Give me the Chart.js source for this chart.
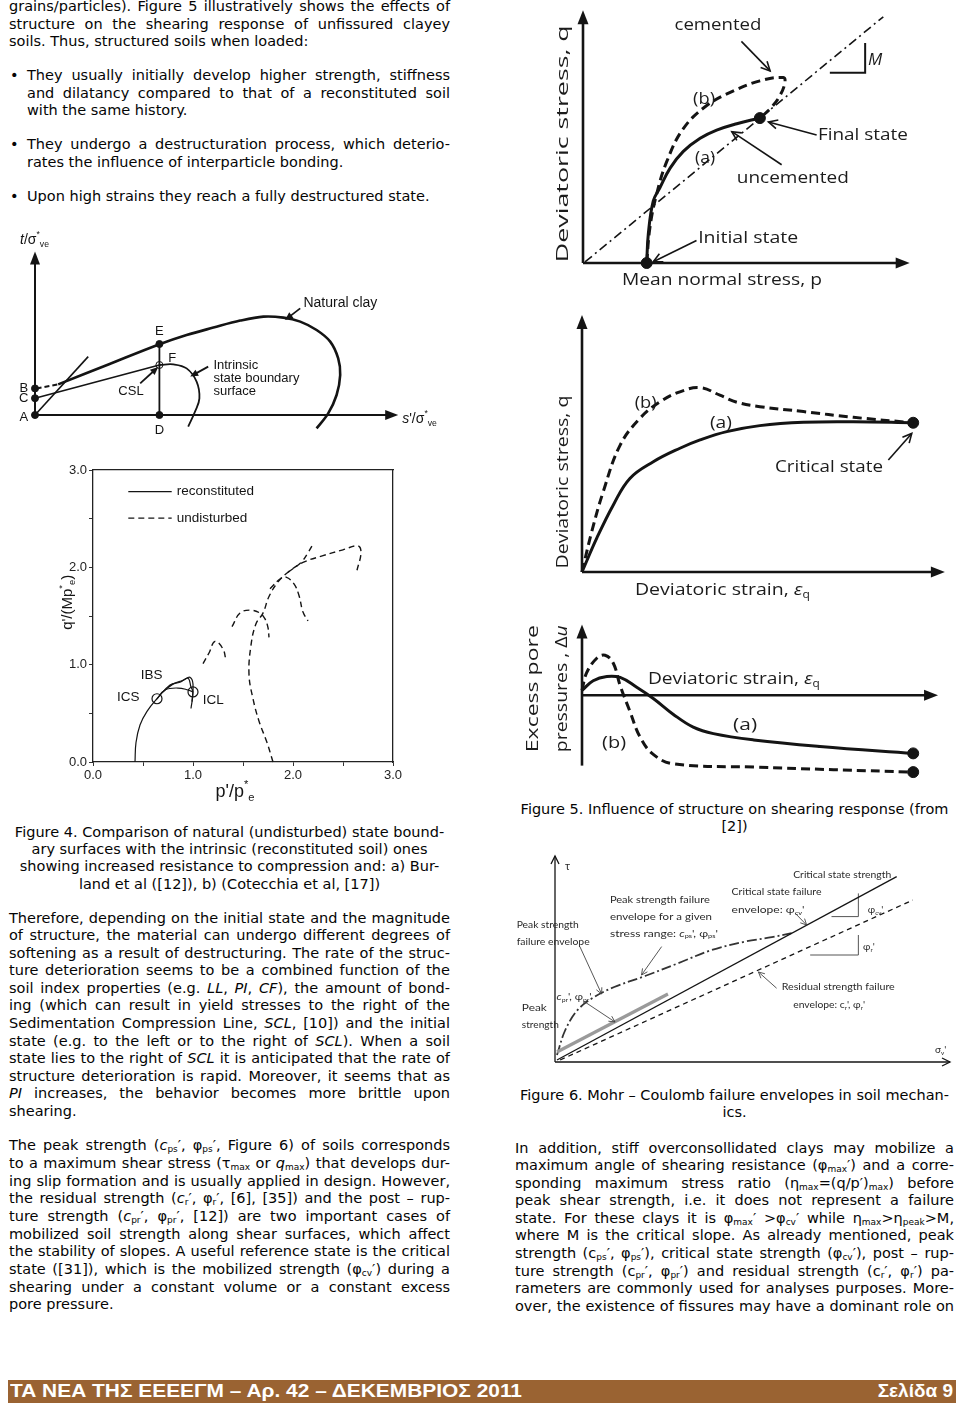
<!DOCTYPE html>
<html>
<head>
<meta charset="utf-8">
<title>Structured soils - figures 4 to 6</title>
<script src="https://cdn.jsdelivr.net/npm/chart.js"></script>
<style>
  html, body { margin: 0; padding: 0; background: #fff; }
  body { position: relative; width: 960px; height: 1408px; overflow: hidden;
         font-family: "DejaVu Sans", Verdana, sans-serif; font-size: 14.5px; color: #050505; }
  .blk { position: absolute; }
  .blk > div { white-space: nowrap; }
  .c { text-align: center; }
  .blk sub { font-size: 0.62em; vertical-align: -0.22em; line-height: 0; }
  .dot { position: absolute; left: 10px; line-height: 17.5px; }
  canvas { position: absolute; }
  #band { position: absolute; left: 8px; top: 1380px; width: 948px; height: 23px; background: #9a6332; }
  #band span { position: absolute; top: 0; line-height: 23px; color: #fff; white-space: nowrap;
               font: bold 19px "Liberation Sans Narrow", "Liberation Sans", sans-serif; }
</style>
</head>
<body>

<div class="blk" style="left:9px;top:-2px;width:441px;line-height:17.5px">
  <div class="j">grains/particles). Figure 5 illustratively shows the effects of</div>
  <div class="j">structure on the shearing response of unfissured clayey</div>
  <div>soils. Thus, structured soils when loaded:</div>
</div>

<span class="dot" style="top:67px">&bull;</span>
<div class="blk" style="left:27px;top:67px;width:423px;line-height:17.5px">
  <div class="j">They usually initially develop higher strength, stiffness</div>
  <div class="j">and dilatancy compared to that of a reconstituted soil</div>
  <div>with the same history.</div>
</div>
<span class="dot" style="top:136px">&bull;</span>
<div class="blk" style="left:27px;top:136px;width:423px;line-height:17.5px">
  <div class="j">They undergo a destructuration process, which deterio-</div>
  <div>rates the influence of interparticle bonding.</div>
</div>
<span class="dot" style="top:188px">&bull;</span>
<div class="blk" style="left:27px;top:188px;width:423px;line-height:17.5px">
  <div>Upon high strains they reach a fully destructured state.</div>
</div>

<div class="blk c" style="left:9px;top:823.5px;width:441px;line-height:17.4px">
  <div>Figure 4. Comparison of natural (undisturbed) state bound-</div>
  <div>ary surfaces with the intrinsic (reconstituted soil) ones</div>
  <div>showing increased resistance to compression and: a) Bur-</div>
  <div>land et al ([12]), b) (Cotecchia et al, [17])</div>
</div>

<div class="blk" style="left:9px;top:909.5px;width:441px;line-height:17.6px">
  <div class="j">Therefore, depending on the initial state and the magnitude</div>
  <div class="j">of structure, the material can undergo different degrees of</div>
  <div class="j">softening as a result of destructuring. The rate of the struc-</div>
  <div class="j">ture deterioration seems to be a combined function of the</div>
  <div class="j">soil index properties (e.g. <i>LL</i>, <i>PI</i>, <i>CF</i>), the amount of bond-</div>
  <div class="j">ing (which can result in yield stresses to the right of the</div>
  <div class="j">Sedimentation Compression Line, <i>SCL</i>, [10]) and the initial</div>
  <div class="j">state (e.g. to the left or to the right of <i>SCL</i>). When a soil</div>
  <div class="j">state lies to the right of <i>SCL</i> it is anticipated that the rate of</div>
  <div class="j">structure deterioration is rapid. Moreover, it seems that as</div>
  <div class="j"><i>PI</i> increases, the behavior becomes more brittle upon</div>
  <div>shearing.</div>
</div>

<div class="blk" style="left:9px;top:1137.2px;width:441px;line-height:17.67px">
  <div class="j">The peak strength (<i>c</i><sub>ps</sub>&prime;, &phi;<sub>ps</sub>&prime;, Figure 6) of soils corresponds</div>
  <div class="j">to a maximum shear stress (&tau;<sub>max</sub> or <i>q</i><sub>max</sub>) that develops dur-</div>
  <div class="j">ing slip formation and is usually applied in design. However,</div>
  <div class="j">the residual strength (<i>c</i><sub>r</sub>&prime;, &phi;<sub>r</sub>&prime;, [6], [35]) and the post &ndash; rup-</div>
  <div class="j">ture strength (<i>c</i><sub>pr</sub>&prime;, &phi;<sub>pr</sub>&prime;, [12]) are two important cases of</div>
  <div class="j">mobilized soil strength along shear surfaces, which affect</div>
  <div class="j">the stability of slopes. A useful reference state is the critical</div>
  <div class="j">state ([31]), which is the mobilized strength (&phi;<sub>cv</sub>&prime;) during a</div>
  <div class="j">shearing under a constant volume or a constant excess</div>
  <div>pore pressure.</div>
</div>

<div class="blk c" style="left:515px;top:801.2px;width:439px;line-height:17px">
  <div>Figure 5. Influence of structure on shearing response (from</div>
  <div>[2])</div>
</div>

<div class="blk c" style="left:515px;top:1087.2px;width:439px;line-height:17.3px">
  <div>Figure 6. Mohr &ndash; Coulomb failure envelopes in soil mechan-</div>
  <div>ics.</div>
</div>

<div class="blk" style="left:515px;top:1139.5px;width:439px;line-height:17.6px">
  <div class="j">In addition, stiff overconsollidated clays may mobilize a</div>
  <div class="j">maximum angle of shearing resistance (&phi;<sub>max</sub>&prime;) and a corre-</div>
  <div class="j">sponding maximum stress ratio (&eta;<sub>max</sub>=(q/p&prime;)<sub>max</sub>) before</div>
  <div class="j">peak shear strength, i.e. it does not represent a failure</div>
  <div class="j">state. For these clays it is &phi;<sub>max</sub>&prime; &gt;&phi;<sub>cv</sub>&prime; while &eta;<sub>max</sub>&gt;&eta;<sub>peak</sub>&gt;M,</div>
  <div class="j">where M is the critical slope. As already mentioned, peak</div>
  <div class="j">strength (c<sub>ps</sub>&prime;, &phi;<sub>ps</sub>&prime;), critical state strength (&phi;<sub>cv</sub>&prime;), post &ndash; rup-</div>
  <div class="j">ture strength (c<sub>pr</sub>&prime;, &phi;<sub>pr</sub>&prime;) and residual strength (c<sub>r</sub>&prime;, &phi;<sub>r</sub>&prime;) pa-</div>
  <div class="j">rameters are commonly used for analyses purposes. More-</div>
  <div class="j">over, the existence of fissures may have a dominant role on</div>
</div>

<div id="band">
  <span id="bandLeft" style="left:2px">ΤΑ ΝΕΑ ΤΗΣ ΕΕΕΕΓΜ – Αρ. 42 – ΔΕΚΕΜΒΡΙΟΣ 2011</span>
  <span id="bandRight" style="right:3px">Σελίδα 9</span>
</div>

<script>
// ---- Figure 5 top: stress paths, mean normal stress p vs deviatoric stress q (sketch units)
const pathUncemented = [[1.93,0],[1.98,1.14],[2.13,2.42],[2.33,2.93],[2.64,3.70],[3.04,4.35],[3.55,4.86],[4.05,5.18],[4.66,5.43],[5.36,5.65]];
const pathCemented = [[1.93,0],[2.03,1.40],[2.23,2.68],[2.54,3.96],[3.04,5.24],[3.75,6.14],[4.56,6.71],[5.36,7.10],[6.07,7.23],[6.12,7.04],[5.97,6.53],[5.72,6.08],[5.46,5.76]];
const lineCsl = [[0.06,0.04],[9.1,9.6]];
const slopeM = [[7.48,7.42],[8.55,7.42],[8.55,8.58]];
const pathStates = [[1.93,0],[5.36,5.65]];

// ---- Figure 5 middle: deviatoric strain vs deviatoric stress
const strainQa = [[0,0],[0.41,1.30],[0.87,2.58],[1.33,3.60],[1.98,4.24],[2.72,4.76],[3.28,5.08],[4.02,5.40],[4.94,5.63],[6.15,5.76],[7.54,5.78],[9.20,5.74]];
const strainQb = [[0,0],[0.27,1.55],[0.59,3.09],[1.06,4.88],[1.61,5.91],[2.17,6.55],[2.72,6.93],[3.28,7.09],[3.83,6.80],[4.30,6.53],[4.94,6.36],[6.15,6.17],[7.54,5.95],[9.20,5.74]];
const criticalPoint = [[9.20,5.74]];

// ---- Figure 5 bottom: deviatoric strain vs excess pore pressure
const strainUa = [[0,0.19],[0.31,0.58],[0.69,0.75],[1.06,0.71],[1.52,0.32],[1.98,-0.13],[2.54,-0.77],[3.09,-1.28],[3.65,-1.54],[4.77,-1.79],[6.61,-2.05],[9.20,-2.33]];
const strainUb = [[0,0.19],[0.13,0.90],[0.41,1.48],[0.64,1.60],[0.87,1.28],[1.06,0.38],[1.33,-0.64],[1.61,-1.67],[1.98,-2.37],[2.54,-2.75],[4.77,-2.88],[9.20,-3.08]];
const endPointsU = [[9.20,-2.33],[9.20,-3.08]];

// ---- Figure 4a: state boundary surfaces, s'/sigma*ve vs t/sigma*ve (sketch units)
const naturalStart = [[0.04,1.33],[0.58,1.53]];
const naturalClay = [[0.58,1.53],[1.85,2.54],[3.13,3.55],[3.79,4.0],[4.46,4.37],[5.13,4.72],[5.71,4.92],[6.21,4.87],[6.63,4.67],[7.04,4.25],[7.38,3.67],[7.58,2.83],[7.63,2.0],[7.54,1.0],[7.33,0.08],[7.04,-0.67]];
const lineCF = [[0,0.84],[3.11,2.5]];
const lineSteep = [[0,0],[1.33,2.92]];
const lineDE = [[3.11,0],[3.11,3.55]];
const intrinsicSbs = [[3.11,2.5],[3.46,2.53],[3.79,2.33],[4.04,1.67],[4.11,0.83],[4.0,0.17],[3.83,-0.58]];
const pointsABCDE = [[0,0],[0,1.33],[0,0.84],[3.11,0],[3.11,3.55]];
const pointF = [[3.11,2.5]];

// ---- Figure 4b: p'/p*e vs q'/(M p*e)
const reconOuter = [[0.42,0],[0.43,0.2],[0.47,0.38],[0.54,0.52],[0.64,0.65],[0.77,0.79],[0.87,0.82],[0.95,0.86],[0.98,0.77],[1.0,0.72],[0.98,0.55]];
const reconInner = [[0.64,0.65],[0.72,0.74],[0.85,0.76],[0.95,0.74],[1.0,0.72]];
const reconUpper = [[0.7,0.72],[0.8,0.8],[0.9,0.84],[0.97,0.87],[1.0,0.8],[0.99,0.62]];
const undist1 = [[1.80,0],[1.74,0.2],[1.66,0.42],[1.6,0.65],[1.56,0.9],[1.58,1.2],[1.63,1.42],[1.70,1.53],[1.76,1.7],[1.85,1.85],[1.95,1.95],[2.1,2.05],[2.3,2.12],[2.5,2.18],[2.65,2.22],[2.68,2.15],[2.64,1.97]];
const undist2 = [[1.10,1.01],[1.16,1.12],[1.22,1.24],[1.30,1.16],[1.33,1.04]];
const undist3 = [[1.39,1.39],[1.47,1.53],[1.57,1.56],[1.67,1.53],[1.72,1.47],[1.75,1.38],[1.76,1.28]];
const undist4 = [[1.77,1.78],[1.87,1.88],[1.93,1.90],[2.01,1.83],[2.06,1.71],[2.10,1.54],[2.15,1.45]];
const undist5 = [[1.95,1.95],[2.08,2.05],[2.15,2.15],[2.19,2.22]];
const intrinsicPoints = [[0.64,0.65],[1.0,0.72]];
const ticks4b = [0, 1, 2, 3];

// ---- Figure 6: Mohr-Coulomb envelopes, sigma'v vs tau (sketch units)
const envCritical = [[0.05,0.1],[8.65,9.27]];
const envResidual = [[0.13,0.1],[9.06,8.1]];
const envPeak = [[0.05,0.35],[0.25,1.55],[0.55,2.55],[0.95,3.2],[1.5,3.75],[2.28,4.3],[3.12,4.94],[3.97,5.6],[4.81,6.02],[5.49,6.24],[5.99,6.44]];
const envPostRupture = [[0.05,0.5],[2.86,3.4]];
const slopeCv = [[7.0,7.27],[7.68,7.27],[7.68,8.43]];
const slopeR = [[6.46,5.35],[7.68,5.35],[7.68,6.35]];

// ------------------------------------------------------------------
Chart.defaults.font.family = '"Liberation Sans", Arial, sans-serif';
const INK = '#141414';

const pts = a => a.map(([x, y]) => ({x, y}));
function line(arr, o) {
  return Object.assign({data: pts(arr), showLine: true, borderColor: INK, borderWidth: 2,
    pointRadius: 0, tension: 0.4, fill: false, clip: false}, o || {});
}
function dots(arr, o) {
  return Object.assign({data: pts(arr), showLine: false, pointRadius: 4.5,
    pointBackgroundColor: INK, pointBorderColor: INK, pointBorderWidth: 1, clip: false}, o || {});
}

function parseRich(s) {
  const out = []; let buf = '';
  for (let i = 0; i < s.length; i++) {
    const c = s[i];
    if ((c === '^' || c === '_' || c === '%') && s[i + 1] === '{') {
      if (buf) { out.push({t: buf, k: ''}); buf = ''; }
      const j = s.indexOf('}', i);
      out.push({t: s.slice(i + 2, j), k: c});
      i = j;
    } else buf += c;
  }
  if (buf) out.push({t: buf, k: ''});
  return out;
}

function drawRich(ctx, s, px, py, o) {
  const segs = parseRich(s);
  const size = o.size;
  const fontFor = k => ((k === '%' || o.italic) ? 'italic ' : '') + (o.weight || 'normal') + ' ' +
    (k === '^' || k === '_' ? size * 0.62 : size) + 'px ' + o.family;
  let total = 0;
  segs.forEach(g => { ctx.font = fontFor(g.k); g.w = ctx.measureText(g.t).width; total += g.w; });
  ctx.save();
  ctx.translate(px, py);
  if (o.rot) ctx.rotate(o.rot);
  if (o.w) ctx.scale(o.w / total, 1);
  let x = o.align === 'left' ? 0 : o.align === 'right' ? -total : -total / 2;
  ctx.fillStyle = o.color; ctx.textBaseline = 'middle'; ctx.textAlign = 'left';
  segs.forEach(g => {
    ctx.font = fontFor(g.k);
    const dy = g.k === '^' ? -size * 0.38 : g.k === '_' ? size * 0.3 : 0;
    ctx.fillText(g.t, x, dy);
    x += g.w;
  });
  ctx.restore();
}

function arrow(ctx, x1, y1, x2, y2, st) {
  const a = Math.atan2(y2 - y1, x2 - x1);
  const L = st.len, H = st.half;
  ctx.strokeStyle = st.color; ctx.fillStyle = st.color; ctx.lineWidth = st.lw; ctx.setLineDash([]);
  const ex = st.open ? x2 : x2 - Math.cos(a) * L * 0.7;
  const ey = st.open ? y2 : y2 - Math.sin(a) * L * 0.7;
  ctx.beginPath(); ctx.moveTo(x1, y1); ctx.lineTo(ex, ey); ctx.stroke();
  const bx = x2 - Math.cos(a) * L, by = y2 - Math.sin(a) * L;
  const nx = -Math.sin(a) * H, ny = Math.cos(a) * H;
  ctx.beginPath(); ctx.moveTo(bx + nx, by + ny); ctx.lineTo(x2, y2); ctx.lineTo(bx - nx, by - ny);
  if (st.open) ctx.stroke(); else { ctx.closePath(); ctx.fill(); }
}

// annotations (arrows, text, legend samples) placed through the chart scales
const notesPlugin = {
  id: 'notes',
  afterDatasetsDraw(chart, args, opts) {
    const ctx = chart.ctx, sx = chart.scales.x, sy = chart.scales.y;
    const X = v => sx.getPixelForValue(v), Y = v => sy.getPixelForValue(v);
    ctx.save();
    (opts.segs || []).forEach(s => {
      ctx.strokeStyle = INK; ctx.lineWidth = s[5]; ctx.setLineDash(s[4]);
      ctx.beginPath(); ctx.moveTo(X(s[0]), Y(s[1])); ctx.lineTo(X(s[2]), Y(s[3])); ctx.stroke();
    });
    ctx.setLineDash([]);
    (opts.arrows || []).forEach(a => arrow(ctx, X(a[0]), Y(a[1]), X(a[2]), Y(a[3]), opts.styles[a[4]]));
    (opts.labels || []).forEach(l => drawRich(ctx, l.t, X(l.x), Y(l.y), {
      size: l.size || opts.font.size, family: opts.font.family, color: opts.font.color,
      align: l.a || 'center', rot: l.rot || 0, w: l.w, italic: l.it
    }));
    ctx.restore();
  }
};

function mount(left, top, w, h) {
  const c = document.createElement('canvas');
  c.width = w; c.height = h;
  c.style.left = left + 'px'; c.style.top = top + 'px';
  c.style.width = w + 'px'; c.style.height = h + 'px';
  document.body.appendChild(c);
  return c;
}

function sketch(box, pad, xr, yr, datasets, notes) {
  const canvas = mount(box[0], box[1], box[2], box[3]);
  return new Chart(canvas, {
    type: 'scatter',
    data: {datasets},
    options: {
      responsive: false, animation: false, events: [],
      layout: {padding: {left: pad[0], top: pad[1], right: pad[2], bottom: pad[3]}},
      plugins: {legend: {display: false}, tooltip: {enabled: false}, notes},
      scales: {
        x: {type: 'linear', min: xr[0], max: xr[1], display: false},
        y: {type: 'linear', min: yr[0], max: yr[1], display: false}
      }
    },
    plugins: [notesPlugin]
  });
}

const CAL = '"Open Sans", "Noto Sans", sans-serif';
const fig5Styles = {
  axis: {lw: 2.6, len: 14, half: 5.5, open: false, color: INK},
  note: {lw: 1.6, len: 9, half: 4.5, open: true, color: INK}
};
const DASH = [9, 5];

// Figure 5 top
sketch([550, 0, 410, 300], [33, 3, 30.5, 37], [0, 10.5], [0, 10], [
  line(lineCsl, {borderWidth: 1.6, borderDash: [9, 4, 2, 4], tension: 0}),
  line(slopeM, {borderWidth: 2, tension: 0}),
  line(pathCemented, {borderWidth: 3, borderDash: DASH}),
  line(pathUncemented, {borderWidth: 3}),
  dots(pathStates, {pointRadius: 5.5})
], {
  font: {family: CAL, size: 17, color: '#1c1c1c'},
  styles: fig5Styles,
  arrows: [[0, 0, 0, 9.85, 'axis'], [0, 0, 9.9, 0, 'axis'],
           [4.80, 8.64, 5.67, 7.49, 'note'], [7.08, 4.99, 5.62, 5.50, 'note'],
           [6.02, 3.83, 4.51, 5.12, 'note'], [3.44, 0.88, 2.13, 0.05, 'note']],
  labels: [
    {x: 4.09, y: 9.27, t: 'cemented', w: 87},
    {x: 3.67, y: 6.38, t: '(b)', w: 22},
    {x: 3.70, y: 4.08, t: '(a)', w: 20},
    {x: 7.12, y: 5.0, t: 'Final state', a: 'left', w: 90},
    {x: 4.66, y: 3.32, t: 'uncemented', a: 'left', w: 112},
    {x: 3.49, y: 0.96, t: 'Initial state', a: 'left', w: 100},
    {x: 8.64, y: 7.92, t: 'M', a: 'left', it: true},
    {x: -0.61, y: 4.65, t: 'Deviatoric stress, q', rot: -Math.PI / 2, w: 237},
    {x: 4.21, y: -0.65, t: 'Mean normal stress, p', w: 200}
  ]
});

// Figure 5 middle
sketch([520, 305, 440, 310], [62, 7, 10.8, 43], [0, 10.2], [0, 10], [
  line(strainQb, {borderWidth: 3, borderDash: DASH}),
  line(strainQa, {borderWidth: 3}),
  dots(criticalPoint, {pointRadius: 5.5})
], {
  font: {family: CAL, size: 17, color: '#1c1c1c'},
  styles: fig5Styles,
  arrows: [[0, 0, 0, 9.88, 'axis'], [0, 0, 10.08, 0, 'axis'], [8.51, 4.31, 9.16, 5.33, 'note']],
  labels: [
    {x: 1.77, y: 6.5, t: '(b)', w: 22},
    {x: 3.86, y: 5.73, t: '(a)', w: 22},
    {x: 6.86, y: 4.04, t: 'Critical state', w: 108},
    {x: -0.53, y: 3.46, t: 'Deviatoric stress, q', rot: -Math.PI / 2, w: 173},
    {x: 1.47, y: -0.69, t: 'Deviatoric strain, %{ε}_{q}', a: 'left', w: 175}
  ]
});

// Figure 5 bottom
sketch([520, 615, 440, 175], [62, 0, 10.8, 10], [0, 10.2], [-3.396, 2.95], [
  line(strainUb, {borderWidth: 3, borderDash: DASH}),
  line(strainUa, {borderWidth: 3}),
  dots(endPointsU, {pointRadius: 5.5})
], {
  font: {family: CAL, size: 17, color: '#1c1c1c'},
  styles: fig5Styles,
  arrows: [[0, -2.82, 0, 2.83, 'axis'], [0, 0, 9.89, 0, 'axis']],
  labels: [
    {x: 1.83, y: 0.64, t: 'Deviatoric strain, %{ε}_{q}', a: 'left', w: 172},
    {x: 4.53, y: -1.2, t: '(a)', w: 24},
    {x: 0.89, y: -1.93, t: '(b)', w: 24},
    {x: -1.36, y: 0.26, t: 'Excess pore', rot: -Math.PI / 2, w: 127},
    {x: -0.56, y: 0.26, t: 'pressures , Δ%{u}', rot: -Math.PI / 2, w: 127}
  ]
});

// Figure 4a
const ARIAL = '"Liberation Sans", Arial, sans-serif';
sketch([0, 225, 460, 220], [35, 10, 25, 30], [0, 10], [0, 9], [
  line(naturalStart, {borderWidth: 2, borderDash: [5, 3], tension: 0}),
  line(naturalClay, {borderWidth: 2.6, tension: 0.35}),
  line(lineCF, {borderWidth: 1.6, tension: 0}),
  line(lineSteep, {borderWidth: 1.6, tension: 0}),
  line(lineDE, {borderWidth: 1.8, tension: 0}),
  line(intrinsicSbs, {borderWidth: 1.8}),
  dots(pointsABCDE, {pointRadius: 3.5}),
  dots(pointF, {pointRadius: 3.5, pointBackgroundColor: '#fff'})
], {
  font: {family: ARIAL, size: 13, color: INK},
  styles: {
    axis: {lw: 2, len: 13, half: 5, open: false, color: INK},
    note: {lw: 1.8, len: 8, half: 3.5, open: false, color: INK}
  },
  arrows: [[0, 0, 0, 8.17, 'axis'], [0, 0, 9.08, 0, 'axis'],
           [6.63, 5.33, 6.25, 4.75, 'note'], [4.33, 2.42, 3.88, 1.92, 'note'], [2.63, 1.58, 3.08, 2.4, 'note']],
  labels: [
    {x: -0.28, y: -0.13, t: 'A'}, {x: -0.28, y: 1.33, t: 'B'}, {x: -0.28, y: 0.83, t: 'C'},
    {x: 3.11, y: -0.75, t: 'D'}, {x: 3.11, y: 4.17, t: 'E'}, {x: 3.33, y: 2.83, t: 'F', a: 'left'},
    {x: 6.71, y: 5.6, t: 'Natural clay', a: 'left', size: 14},
    {x: 4.46, y: 2.5, t: 'Intrinsic', a: 'left'},
    {x: 4.46, y: 1.83, t: 'state boundary', a: 'left'},
    {x: 4.46, y: 1.17, t: 'surface', a: 'left'},
    {x: 2.4, y: 1.17, t: 'CSL'},
    {x: -0.375, y: 8.75, t: '%{t}/σ^{*}_{ve}', a: 'left', size: 14},
    {x: 9.18, y: -0.2, t: '%{s}\'/σ^{*}_{ve}', a: 'left', size: 14}
  ]
});

// Figure 4b
const tickLabel = v => ticks4b.indexOf(v) >= 0 ? v.toFixed(1) : '';
const frameAxis = (pos, fit) => ({
  type: 'linear', min: 0, max: 3, position: pos,
  ticks: {display: false}, grid: {display: false},
  border: {color: '#222', width: 1.3}, afterFit: fit
});
new Chart(mount(55, 455, 365, 355), {
  type: 'scatter',
  data: {datasets: [
    line(reconOuter, {borderWidth: 1.2}),
    line(reconInner, {borderWidth: 1.2}),
    line(reconUpper, {borderWidth: 1.2}),
    line(undist1, {borderWidth: 1.4, borderDash: [6, 4]}),
    line(undist2, {borderWidth: 1.4, borderDash: [6, 4]}),
    line(undist3, {borderWidth: 1.4, borderDash: [6, 4]}),
    line(undist4, {borderWidth: 1.4, borderDash: [6, 4]}),
    line(undist5, {borderWidth: 1.4, borderDash: [6, 4]}),
    dots(intrinsicPoints, {pointRadius: 5, pointBackgroundColor: 'rgba(255,255,255,0)', pointBorderWidth: 1.2})
  ]},
  options: {
    responsive: false, animation: false, events: [],
    layout: {padding: {left: 0, top: 15, right: 27, bottom: 0}},
    plugins: {
      legend: {display: false}, tooltip: {enabled: false},
      notes: {
        font: {family: ARIAL, size: 13, color: INK},
        styles: {},
        segs: [[0.353, 2.778, 0.787, 2.778, [], 1.3], [0.353, 2.505, 0.787, 2.505, [6, 4], 1.3]],
        labels: [
          {x: 0.837, y: 2.778, t: 'reconstituted', a: 'left', size: 13.5},
          {x: 0.837, y: 2.505, t: 'undisturbed', a: 'left', size: 13.5},
          {x: 0.587, y: 0.894, t: 'IBS', size: 13.5},
          {x: 0.353, y: 0.667, t: 'ICS', size: 13.5},
          {x: 1.203, y: 0.637, t: 'ICL', size: 13.5},
          {x: -0.25, y: 1.64, t: 'q\'/(Mp^{*}_{e})', rot: -Math.PI / 2, size: 15},
          {x: 1.42, y: -0.31, t: 'p\'/p^{*}_{e}', size: 18}
        ]
      }
    },
    scales: {
      x: {type: 'linear', min: 0, max: 3, position: 'bottom',
          ticks: {stepSize: 0.5, autoSkip: false, maxRotation: 0, callback: tickLabel,
                  color: '#222', padding: 2, font: {size: 13}},
          grid: {drawOnChartArea: false, tickLength: 4, color: '#333'},
          border: {color: '#222', width: 1.3},
          afterFit: s => { s.height = 48; }},
      y: {type: 'linear', min: 0, max: 3, position: 'left',
          ticks: {stepSize: 0.5, autoSkip: false, callback: tickLabel,
                  color: '#222', padding: 2, font: {size: 13}},
          grid: {drawOnChartArea: false, tickLength: 4, color: '#333'},
          border: {color: '#222', width: 1.3},
          afterFit: s => { s.width = 38; }},
      x2: frameAxis('top', s => { s.height = 0; }),
      y2: frameAxis('right', s => { s.width = 0; })
    }
  },
  plugins: [notesPlugin]
});

// Figure 6
const LATO = 'Lato, "Liberation Sans", sans-serif';
sketch([505, 850, 455, 225], [50, 5, 10, 13], [0, 10], [0, 10.35], [
  line(envPostRupture, {borderWidth: 3.2, borderColor: '#9a9a9a', tension: 0}),
  line(envCritical, {borderWidth: 1.3, tension: 0}),
  line(envResidual, {borderWidth: 1.3, borderDash: [5, 4], tension: 0}),
  line(envPeak, {borderWidth: 1.8, borderColor: '#333', borderDash: [10, 3, 2, 3], tension: 0.35}),
  line(slopeCv, {borderWidth: 1, borderColor: '#555', tension: 0}),
  line(slopeR, {borderWidth: 1, borderColor: '#555', tension: 0})
], {
  font: {family: LATO, size: 10, color: '#2a2a2a'},
  styles: {
    axis: {lw: 1.3, len: 8, half: 4, open: true, color: INK},
    note: {lw: 0.9, len: 6, half: 3, open: true, color: '#444'}
  },
  arrows: [[0, 0, 0, 10.3, 'axis'], [0, 0, 10.0, 0, 'axis'],
           [6.08, 7.44, 6.37, 6.85, 'note'], [2.70, 5.77, 2.19, 4.35, 'note'],
           [0.63, 5.77, 1.18, 3.4, 'note'], [0.72, 3.05, 1.52, 2.0, 'note'],
           [5.61, 3.69, 5.15, 4.5, 'note']],
  labels: [
    {x: 0.32, y: 9.77, t: 'τ', size: 11},
    {x: 6.03, y: 9.35, t: 'Critical state strength', a: 'left', w: 98},
    {x: 4.47, y: 8.52, t: 'Critical state failure', a: 'left', w: 90},
    {x: 4.47, y: 7.6, t: 'envelope: φ_{cv}\'', a: 'left', w: 73},
    {x: 1.39, y: 8.1, t: 'Peak strength failure', a: 'left', w: 100},
    {x: 1.39, y: 7.27, t: 'envelope for a given', a: 'left', w: 102},
    {x: 1.39, y: 6.43, t: 'stress range: %{c}_{ps}\', φ_{ps}\'', a: 'left', w: 108},
    {x: -0.97, y: 6.85, t: 'Peak strength', a: 'left', w: 62},
    {x: -0.97, y: 6.0, t: 'failure envelope', a: 'left', w: 73},
    {x: 0.04, y: 3.27, t: '%{c}_{pr}\', φ_{pr}\'', a: 'left', w: 35},
    {x: -0.84, y: 2.69, t: 'Peak', a: 'left', w: 25},
    {x: -0.84, y: 1.85, t: 'strength', a: 'left', w: 37},
    {x: 5.74, y: 3.77, t: 'Residual strength failure', a: 'left', w: 113},
    {x: 6.03, y: 2.85, t: 'envelope: c_{r}\', φ_{r}\'', a: 'left', w: 72},
    {x: 7.92, y: 7.6, t: 'φ_{cv}\'', a: 'left'},
    {x: 7.8, y: 5.77, t: 'φ_{r}\'', a: 'left'},
    {x: 9.62, y: 0.6, t: 'σ_{v}\'', a: 'left'}
  ]
});

// justify the text lines the way the printed page does
document.querySelectorAll('.j').forEach(el => {
  const W = el.parentNode.clientWidth;
  el.style.display = 'inline-block';
  const w = el.getBoundingClientRect().width;
  el.style.display = 'block';
  const n = (el.textContent.match(/ /g) || []).length;
  if (n) el.style.wordSpacing = ((W - w) / n) + 'px';
});

// footer: condensed title stretched to the printed width
const bl = document.getElementById('bandLeft');
bl.style.transformOrigin = 'left center';
bl.style.transform = 'scaleX(' + (512 / bl.getBoundingClientRect().width) + ')';
</script>
</body>
</html>
